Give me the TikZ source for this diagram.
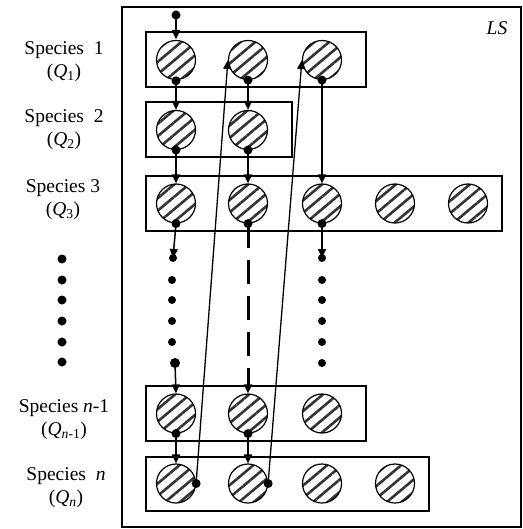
\documentclass[tikz,border=0pt]{standalone}
\usepackage{fontspec}
\setmainfont{Liberation Serif}
\usetikzlibrary{arrows.meta,patterns.meta}
\begin{document}
\begin{tikzpicture}[x=1pt,y=-1pt,
  sp/.style={circle,draw,line width=1.2pt,minimum size=39pt,inner sep=0pt,
    pattern={Lines[angle=40,distance=9.5pt,line width=2.6pt]},pattern color=black!80},
  box/.style={draw,line width=1.3pt,inner sep=0pt},
  dot/.style={circle,fill,inner sep=0pt,minimum size=9pt},
  sdot/.style={circle,fill,inner sep=0pt,minimum size=8pt},
  arr/.style={line width=1.5pt,-{Triangle[length=9pt,width=8pt]}},
  lbl/.style={align=center,font=\fontsize{19.5}{23}\selectfont}
]
\useasboundingbox (0,0) rectangle (522,529);
% frame
\node[box,minimum width=399pt,minimum height=520pt] (frame) at (321.5,267) {};
\node[font=\fontsize{19.5}{23}\selectfont\itshape] (ls) at (497,28) {LS};
% boxes
\node[box,minimum width=220pt,minimum height=55pt] (b1) at (256,59.5) {};
\node[box,minimum width=146pt,minimum height=55pt] (b2) at (219,129.5) {};
\node[box,minimum width=356pt,minimum height=55pt] (b3) at (324,203.5) {};
\node[box,minimum width=220pt,minimum height=55pt] (b4) at (256,413.5) {};
\node[box,minimum width=283pt,minimum height=54pt] (b5) at (287.5,484) {};
% circles
\node[sp] (c11) at (176,60) {};
\node[sp] (c12) at (248,60) {};
\node[sp] (c13) at (322,60) {};
\node[sp] (c21) at (176,130) {};
\node[sp] (c22) at (248,130) {};
\node[sp] (c31) at (176,203.5) {};
\node[sp] (c32) at (248,203.5) {};
\node[sp] (c33) at (322,203.5) {};
\node[sp] (c34) at (395,203.5) {};
\node[sp] (c35) at (468,203.5) {};
\node[sp] (c41) at (176,413.5) {};
\node[sp] (c42) at (248,413.5) {};
\node[sp] (c43) at (322,413.5) {};
\node[sp] (c51) at (176,483.5) {};
\node[sp] (c52) at (248,483.5) {};
\node[sp] (c53) at (322,483.5) {};
\node[sp] (c54) at (395,483.5) {};
% labels
\node[lbl] (l1) at (64,61.5) {Species\ \ 1\\(\textit{Q}\textsubscript{1})};
\node[lbl] (l2) at (64,129.5) {Species\ \ 2\\(\textit{Q}\textsubscript{2})};
\node[lbl] (l3) at (63,199.5) {Species 3\\(\textit{Q}\textsubscript{3})};
\node[lbl] (l4) at (64,419.5) {Species \textit{n}-1\\(\textit{Q}\textsubscript{\textit{n}-1})};
\node[lbl] (l5) at (66,487.5) {Species\ \ \textit{n}\\(\textit{Q}\textsubscript{\textit{n}})};
% left vertical dots
\foreach \yy [count=\i] in {259,280,300,321,342,362}
  \node[dot] (ld\i) at (62,\yy) {};
% top entry
\node[dot] (top) at (176,15) {};
\draw[arr] (top.center) -- (c11.north);
% bottom dots of circles
\foreach \c in {c11,c12,c13,c21,c22,c31,c32,c33,c41,c42}
  \node[dot] (d\c) at (\c.south) {};
\node[dot] (dc51) at (c51.east) {};
\node[dot] (dc52) at (c52.east) {};
% vertical arrows
\draw[arr] (c11.south) -- (c21.north);
\draw[arr] (c12.south) -- (c22.north);
\draw[arr] (c13.south) -- (c33.north);
\draw[arr] (c21.south) -- (c31.north);
\draw[arr] (c22.south) -- (c32.north);
\draw[arr] (c41.south) -- (c51.north);
\draw[arr] (c42.south) -- (c52.north);
% column 1 dotted
\node[sdot] (v1) at (173,258) {};
\node[sdot] (v2) at (172,280) {};
\node[sdot] (v3) at (172,300) {};
\node[sdot] (v4) at (172,321) {};
\node[sdot] (v5) at (172,342) {};
\node[dot,minimum width=10pt] (v6) at (175,363) {};
\draw[arr] (c31.south) -- (v1.center);
\draw[arr] (v6.center) -- (c41.north);
% column 3 dotted
\node[sdot] (w1) at (322,258) {};
\node[sdot] (w2) at (322,280) {};
\node[sdot] (w3) at (322,300) {};
\node[sdot] (w4) at (322,321) {};
\node[sdot] (w5) at (322,342) {};
\node[sdot] (w6) at (322,363) {};
\draw[arr] (c33.south) -- (w1.center);
% column 2 dashed
\draw[arr,line width=3pt,dash pattern=on 24pt off 12pt] (c32.south) -- (c42.north);
% return lines
\draw[arr,line width=1.3pt] (dc51.center) -- (c12.west);
\draw[arr,line width=1.3pt] (dc52.center) -- (c13.west);
\end{tikzpicture}
\end{document}
